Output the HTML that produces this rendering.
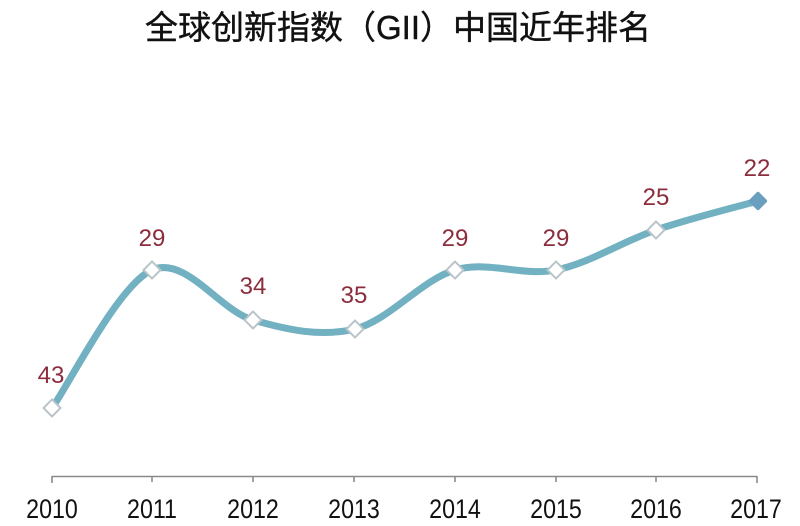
<!DOCTYPE html>
<html>
<head>
<meta charset="utf-8">
<style>
html,body{margin:0;padding:0;background:#fff;}
body{width:800px;height:526px;overflow:hidden;}
svg{display:block;}
</style>
</head>
<body>
<svg width="800" height="526" viewBox="0 0 800 526" xmlns="http://www.w3.org/2000/svg">
  <rect width="800" height="526" fill="#ffffff"/>
  <text x="398" y="39" text-anchor="middle" font-family="'Liberation Sans','Noto Sans CJK SC',sans-serif" font-size="33" font-weight="normal" fill="#111111" stroke="#111111" stroke-width="0.4">全球创新指数（GII）中国近年排名</text>

  <!-- axis -->
  <g stroke="#8a8a8a" stroke-width="1.6" fill="none">
    <line x1="52" y1="476.5" x2="757" y2="476.5"/>
    <line x1="52" y1="476" x2="52" y2="483"/>
    <line x1="152" y1="476" x2="152" y2="482"/>
    <line x1="253" y1="476" x2="253" y2="482"/>
    <line x1="354" y1="476" x2="354" y2="482"/>
    <line x1="455" y1="476" x2="455" y2="482"/>
    <line x1="556" y1="476" x2="556" y2="482"/>
    <line x1="656" y1="476" x2="656" y2="482"/>
    <line x1="757" y1="476" x2="757" y2="483"/>
  </g>
  <g font-family="'Liberation Sans',sans-serif" font-size="27" fill="#111111" text-anchor="middle">
    <text transform="translate(52,518) scale(0.86,1)">2010</text>
    <text transform="translate(152,518) scale(0.86,1)">2011</text>
    <text transform="translate(253,518) scale(0.86,1)">2012</text>
    <text transform="translate(354,518) scale(0.86,1)">2013</text>
    <text transform="translate(455,518) scale(0.86,1)">2014</text>
    <text transform="translate(556,518) scale(0.86,1)">2015</text>
    <text transform="translate(656,518) scale(0.86,1)">2016</text>
    <text transform="translate(756,518) scale(0.86,1)">2017</text>
  </g>

  <!-- curve -->
  <path d="M52,408 C68.7,385 118.5,284.7 152,270 C185.5,255.3 219.2,310.2 253,320 C286.8,329.8 321.3,337.3 355,329 C388.7,320.7 421.5,279.8 455,270 C488.5,260.2 522.5,276.7 556,270 C589.5,263.3 622.3,241.5 656,230 C689.7,218.5 741,205.8 758,201"
        fill="none" stroke="#72b1c1" stroke-width="7" stroke-linecap="round" stroke-linejoin="round"/>

  <!-- markers -->
  <g fill="#ffffff" stroke="#b8c4c8" stroke-width="2">
    <rect x="-6" y="-6" width="12" height="12" transform="translate(52,408) rotate(45)"/>
    <rect x="-6" y="-6" width="12" height="12" transform="translate(152,270) rotate(45)"/>
    <rect x="-6" y="-6" width="12" height="12" transform="translate(253,320) rotate(45)"/>
    <rect x="-6" y="-6" width="12" height="12" transform="translate(355,329) rotate(45)"/>
    <rect x="-6" y="-6" width="12" height="12" transform="translate(455,270) rotate(45)"/>
    <rect x="-6" y="-6" width="12" height="12" transform="translate(556,270) rotate(45)"/>
    <rect x="-6" y="-6" width="12" height="12" transform="translate(656,230) rotate(45)"/>
  </g>
  <rect x="-7" y="-7" width="14" height="14" rx="2" transform="translate(758,201) rotate(45)" fill="#6a9fc0"/>

  <!-- data labels -->
  <g font-family="'Liberation Sans',sans-serif" font-size="24" fill="#8b2d3c" text-anchor="middle">
    <text x="51" y="383">43</text>
    <text x="152" y="246">29</text>
    <text x="253" y="294">34</text>
    <text x="354" y="303">35</text>
    <text x="455" y="246">29</text>
    <text x="556" y="246">29</text>
    <text x="656" y="205">25</text>
    <text x="757" y="176">22</text>
  </g>
</svg>
</body>
</html>
